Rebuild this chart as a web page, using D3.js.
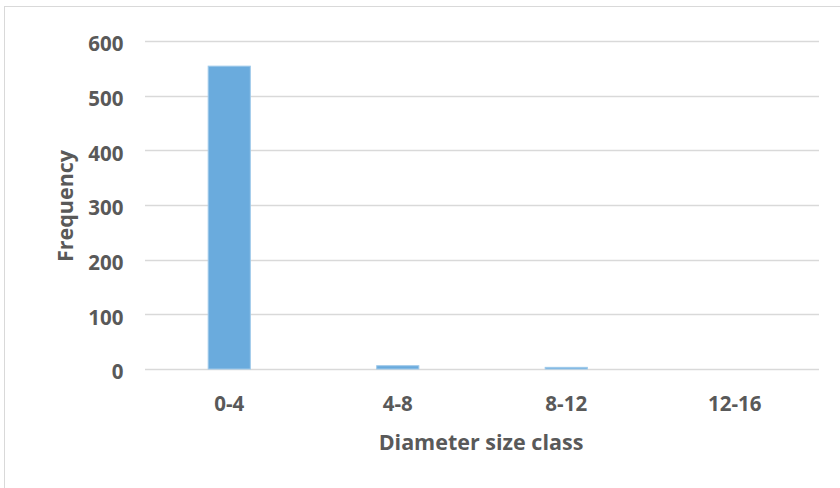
<!DOCTYPE html>
<html>
<head>
<meta charset="utf-8">
<script src="https://cdn.jsdelivr.net/npm/d3@7/dist/d3.min.js"></script>
<style>
  html, body { margin: 0; padding: 0; background: #fff; }
  svg { display: block; }
  text { font-family: "Open Sans", "Noto Sans", sans-serif; font-weight: bold; fill: #595959; }
</style>
</head>
<body>
<svg id="chart" width="840" height="488"></svg>
<script>
// Diameter size class histogram
const categories = ["0-4", "4-8", "8-12", "12-16"];
const frequency = [554, 6, 3, 0];
const yTicks = [0, 100, 200, 300, 400, 500, 600];

const svg = d3.select("#chart");
const W = 840, H = 488;
const margin = { left: 145, right: 21, top: 41, bottom: 119 };

// Outer chart frame
svg.append("rect")
  .attr("x", 4.5).attr("y", 6.5)
  .attr("width", W).attr("height", H)
  .attr("fill", "none").attr("stroke", "#d9d9d9").attr("stroke-width", 1);

const x = d3.scaleBand()
  .domain(categories)
  .range([margin.left, W - margin.right])
  .paddingInner(0.75).paddingOuter(0.375);

const y = d3.scaleLinear()
  .domain([0, 600])
  .range([H - margin.bottom, margin.top]);

// Horizontal gridlines
svg.append("g")
  .selectAll("line")
  .data(yTicks)
  .join("line")
  .attr("x1", margin.left).attr("x2", W - margin.right)
  .attr("y1", d => Math.round(y(d)) + 0.5).attr("y2", d => Math.round(y(d)) + 0.5)
  .attr("stroke", "#d9d9d9").attr("stroke-width", 1.3);

// Y tick labels
svg.append("g")
  .selectAll("text")
  .data(yTicks)
  .join("text")
  .attr("x", 123.5)
  .attr("y", d => y(d) + 3)
  .attr("dy", "0.35em")
  .attr("text-anchor", "end")
  .attr("font-size", 20.5)
  .text(d => d);

// Bars
svg.append("g")
  .selectAll("rect")
  .data(frequency)
  .join("rect")
  .attr("x", (d, i) => x(categories[i]))
  .attr("y", d => y(d))
  .attr("width", x.bandwidth())
  .attr("height", d => y(0) - y(d))
  .attr("fill", "#6aabdd")
  .attr("stroke", "#9ec9ea")
  .attr("stroke-width", 1);

// X category labels
svg.append("g")
  .selectAll("text")
  .data(categories)
  .join("text")
  .attr("x", d => x(d) + x.bandwidth() / 2)
  .attr("y", 404)
  .attr("dy", "0.35em")
  .attr("text-anchor", "middle")
  .attr("font-size", 20.5)
  .text(d => d);

// Axis titles
svg.append("text")
  .attr("x", 481).attr("y", 442)
  .attr("dy", "0.35em")
  .attr("text-anchor", "middle")
  .attr("font-size", 21.5)
  .text("Diameter size class");

svg.append("text")
  .attr("transform", "translate(65,206) rotate(-90)")
  .attr("dy", "0.35em")
  .attr("text-anchor", "middle")
  .attr("font-size", 21.5)
  .text("Frequency");
</script>
</body>
</html>
